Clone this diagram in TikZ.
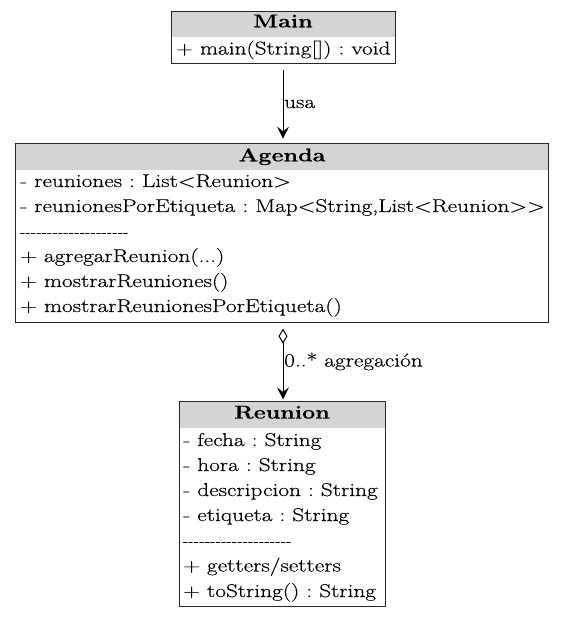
\documentclass[tikz,border=0pt]{standalone}
\usepackage{fontspec}
\setmainfont{Latin Modern Roman}[FakeStretch=1.26, FakeBold=0.35]
\newfontfamily\hyfont{Latin Modern Roman}[FakeBold=0.35]
\usetikzlibrary{arrows.meta}
\frenchspacing
\newcommand\hyph{-\kern0.6pt}
\newcommand\dashrow{{\hyfont\fontsize{16}{22}\selectfont\hyph\hyph\hyph\hyph\hyph\hyph\hyph\hyph\hyph\hyph\hyph\hyph\hyph\hyph\hyph\hyph\hyph\hyph\hyph\hyph}}
\tikzset{
  umlbox/.style={draw=black!85, line width=1pt, rectangle, inner sep=0pt, anchor=north west},
  headfill/.style={fill=black!17, draw=none, rectangle, inner sep=0pt, anchor=north west},
  umltxt/.style={inner sep=0pt, anchor=base west, font=\fontsize{18.5}{22}\selectfont\frenchspacing},
  umlhead/.style={inner sep=0pt, anchor=base, font=\fontsize{18.5}{22}\selectfont\bfseries},
  lbl/.style={inner sep=0pt, anchor=base west, font=\fontsize{18.5}{22}\selectfont},
  conn/.style={line width=1pt, black},
  veehead/.style={-{Stealth[length=12pt,width=12pt,inset=4.5pt]}},
}
\begin{document}
\begin{tikzpicture}[x=1pt,y=-1pt]
\useasboundingbox[fill=white] (0,0) rectangle (565,617);
% Main
\node[headfill, minimum width=223pt, minimum height=25pt] (mainh) at (171.5,11.5) {};
\node[umlbox, minimum width=224.5pt, minimum height=52.7pt] (main) at (170.7,10.7) {};
\node[umlhead] (mainn) at (283,27.3) {Main};
\node[umltxt] (main1) at (176,54.5) {+ main(String[]) : void};
% Agenda
\node[headfill, minimum width=532pt, minimum height=26.5pt] (agh) at (16,143.5) {};
\node[umlbox, minimum width=533.3pt, minimum height=179pt] (agenda) at (15,142.7) {};
\node[umlhead] (agn) at (282,161.3) {Agenda};
\node[umltxt] (ag1) at (20,187) {- reuniones : List<Reunion>};
\node[umltxt] (ag2) at (20,212) {- reunionesPorEtiqueta : Map<String,List<Reunion>\kern0pt>};
\node[umltxt] (ag3) at (20,237) {\dashrow};
\node[umltxt] (ag4) at (20,262) {+ agregarReunion(...)};
\node[umltxt] (ag5) at (20,287) {+ mostrarReuniones()};
\node[umltxt] (ag6) at (20,312) {+ mostrarReunionesPorEtiqueta()};
% Reunion
\node[headfill, minimum width=205pt, minimum height=26pt] (reh) at (179.5,401.5) {};
\node[umlbox, minimum width=206.5pt, minimum height=205.5pt] (reunion) at (178.7,400.7) {};
\node[umlhead] (ren) at (282,418.5) {Reunion};
\node[umltxt] (re1) at (183,446) {- fecha : String};
\node[umltxt] (re2) at (183,471) {- hora : String};
\node[umltxt] (re3) at (183,496) {- descripcion : String};
\node[umltxt] (re4) at (183,521) {- etiqueta : String};
\node[umltxt] (re5) at (183,546) {\dashrow};
\node[umltxt] (re6) at (183,571.5) {+ getters/setters};
\node[umltxt] (re7) at (183,597) {+ toString() : String};
% connectors
\draw[conn, veehead, shorten <=5.5pt, shorten >=4pt] (main.south -| 283,0) -- (agenda.north -| 283,0);
\node[lbl] (usa) at (284,108) {usa};
\draw[conn, {Diamond[open,fill=white,length=15pt,width=9pt,line width=1pt]}-{Stealth[length=12pt,width=12pt,inset=4.5pt]}, shorten <=6pt, shorten >=1.3pt] (agenda.south -| 283,0) -- (reunion.north -| 283,0);
\node[lbl] (agr) at (284,366.5) {0..* agregación};
\end{tikzpicture}
\end{document}
